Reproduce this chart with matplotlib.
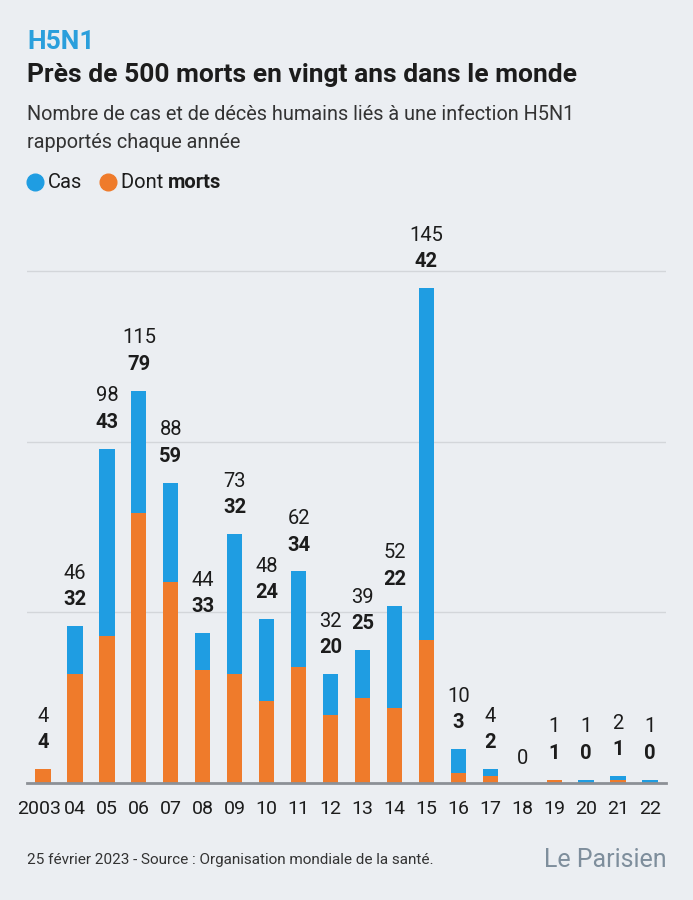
import matplotlib.pyplot as plt
from matplotlib.lines import Line2D
from matplotlib.transforms import ScaledTranslation

plt.rcParams["font.family"] = ["Roboto", "DejaVu Sans"]

years = ["2003", "04", "05", "06", "07", "08", "09", "10", "11", "12",
         "13", "14", "15", "16", "17", "18", "19", "20", "21", "22"]
cases = [4, 46, 98, 115, 88, 44, 73, 48, 62, 32, 39, 52, 145, 10, 4, 0, 1, 1, 2, 1]
deaths = [4, 32, 43, 79, 59, 33, 32, 24, 34, 20, 25, 22, 42, 3, 2, 0, 1, 0, 1, 0]

BG = "#ebeef2"
BLUE = "#1f9de2"
ORANGE = "#ef7b2b"
DARK = "#1c1c1c"

fig = plt.figure(figsize=(6.93, 9), dpi=100, facecolor=BG)
ax = fig.add_axes([27 / 693, 117 / 900, 639 / 693, 563 / 900], facecolor=BG)

x = list(range(len(years)))
ax.bar(x, cases, width=0.48, color=BLUE, zorder=2)
ax.bar(x, deaths, width=0.48, color=ORANGE, zorder=3)

for i in x:
    if cases[i] == 0:
        ax.annotate(str(cases[i]), (i, cases[i]), xytext=(0, 18), textcoords="offset points",
                    ha="center", va="center", fontsize=14.5, color=DARK)
        continue
    ax.annotate(str(deaths[i]), (i, cases[i]), xytext=(0, 19), textcoords="offset points",
                ha="center", va="center", fontsize=14.5, fontweight="bold", color=DARK)
    ax.annotate(str(cases[i]), (i, cases[i]), xytext=(0, 38), textcoords="offset points",
                ha="center", va="center", fontsize=14.5, color=DARK)

ax.set_xlim(-0.5, 19.5)
ax.set_ylim(0, 165)
ax.set_yticks([50, 100, 150])
ax.yaxis.grid(True, color="#d3d6da", linewidth=1, zorder=0)
ax.set_axisbelow(True)
ax.tick_params(axis="y", left=False, labelleft=False)
ax.tick_params(axis="x", bottom=False, labelsize=14, colors=DARK, pad=9)
ax.set_xticks(x)
ax.set_xticklabels(years)
first = ax.get_xticklabels()[0]
first.set_transform(first.get_transform() + ScaledTranslation(-3 / 72, 0, fig.dpi_scale_trans))
for s in ["top", "right", "left"]:
    ax.spines[s].set_visible(False)
ax.spines["bottom"].set_color("#8c9096")
ax.spines["bottom"].set_linewidth(2)
ax.spines["bottom"].set_zorder(4)

# header
fig.text(27 / 693, 1 - 42 / 900, "H5N1", color="#2a9fdc", fontsize=19, fontweight="bold", va="center")
fig.text(27 / 693, 1 - 75 / 900, "Près de 500 morts en vingt ans dans le monde", color=DARK,
         fontsize=19, fontweight="bold", va="center")
fig.text(27 / 693, 1 - 115 / 900, "Nombre de cas et de décès humains liés à une infection H5N1",
         color="#333333", fontsize=14.3, va="center")
fig.text(27 / 693, 1 - 142 / 900, "rapportés chaque année", color="#333333", fontsize=14.3, va="center")

# legend
ly = 1 - 182 / 900
fig.add_artist(Line2D([35 / 693], [ly], marker="o", markersize=12, color=BLUE, transform=fig.transFigure))
fig.text(48 / 693, ly, "Cas", fontsize=14.5, color=DARK, va="center")
fig.add_artist(Line2D([108 / 693], [ly], marker="o", markersize=12, color=ORANGE, transform=fig.transFigure))
t = fig.text(121 / 693, ly, "Dont ", fontsize=14.5, color=DARK, va="center")
fig.canvas.draw()
bb = t.get_window_extent()
fig.text(bb.x1 / fig.bbox.width, ly, "morts", fontsize=14.5, fontweight="bold", color=DARK, va="center")

# footer
fig.text(27 / 693, 1 - 860 / 900, "25 février 2023 - Source : Organisation mondiale de la santé.",
         fontsize=11, color="#333333", va="center")
fig.text(667 / 693, 1 - 860 / 900, "Le Parisien", fontsize=18, color="#7e8e9c", va="center", ha="right")

fig.savefig("out.png", dpi=100, facecolor=BG)
